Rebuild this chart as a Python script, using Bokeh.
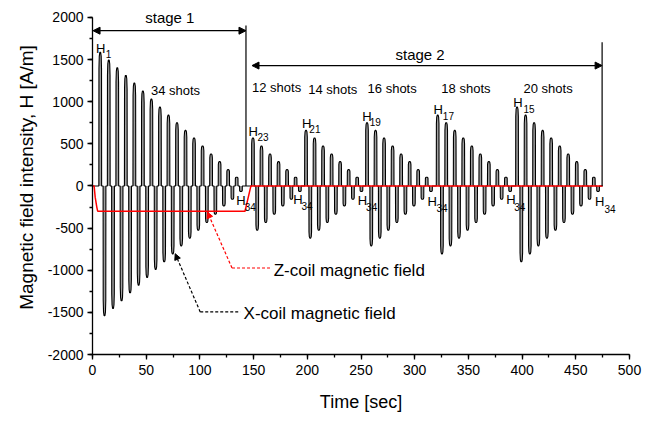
import numpy as np
from bokeh.plotting import figure
from bokeh.models import Range1d, Arrow, NormalHead, SingleIntervalTicker
from bokeh.core.properties import value
from bokeh.embed import file_html
from bokeh.resources import INLINE

# ---------------- data ----------------
# Peak field of the 34 demagnetisation shots H1..H34 (A/m), alternating polarity
H = [1584, -1540, 1493, -1453, 1402, -1363, 1311, -1268, 1220, -1177, 1126, -1086,
     1031, -991, 936, -900, 841, -806, 750, -711, 660, -620, 569, -525,
     474, -434, 379, -336, 288, -237, 194, -158, 103, -65]
shot_interval = 3.97              # s between successive shots
stage1_start = 7.2                # s, time of shot H1
stage2_starts = [149.4, 198.8, 255.6, 321.4, 395.3]   # s, first shot of each group
stage2_first = [23, 21, 19, 17, 15]                   # index of first H in each group
stage2_shots = [12, 14, 16, 18, 20]
wave_end = 475.0

# Z-coil field (A/m)
z_t = [0, 1.5, 2.5, 4.0, 4.8, 142.0, 147.5, 475.0]
z_h = [0, 0, -133, -251, -300, -300, 0, 0]

y_ticks = [-2000, -1500, -1000, -500, 0, 500, 1000, 1500, 2000]
x_ticks = [0, 50, 100, 150, 200, 250, 300, 350, 400, 450, 500]

# ---------------- waveform ----------------
pulses = [(stage1_start + k * shot_interval, H[k]) for k in range(34)]
for s, i0, n in zip(stage2_starts, stage2_first, stage2_shots):
    pulses += [(s + k * shot_interval, H[i0 - 1 + k]) for k in range(n)]

offs = [-1.3, -1.2, -0.9, -0.4, 0.4, 0.9, 1.2, 1.3]
frac = [0, 0.88, 0.97, 1, 1, 0.97, 0.88, 0]
wave_t, wave_h = [0.0], [0.0]
for c, a in pulses:
    for o, f in zip(offs, frac):
        wave_t.append(c + o)
        wave_h.append(a * f)
wave_t.append(wave_end)
wave_h.append(0.0)

FONT = "Liberation Sans"

p = figure(width=658, height=421, x_range=Range1d(0, 500), y_range=Range1d(-2000, 2200),
           output_backend="svg", toolbar_location=None,
           min_border_left=92, min_border_right=29, min_border_top=0, min_border_bottom=67)
p.outline_line_color = None
p.xgrid.visible = False
p.ygrid.visible = False
p.background_fill_color = "white"

p.varea(x=wave_t, y1=0, y2=wave_h, fill_color="#a0a0a0")
p.line(wave_t, wave_h, line_color="black", line_width=1.1)
p.line(z_t, z_h, line_color="#ff0000", line_width=1.5)

# axes
p.xaxis.ticker = SingleIntervalTicker(interval=50, num_minor_ticks=2)
p.yaxis.ticker = SingleIntervalTicker(interval=500, num_minor_ticks=2)
p.yaxis.bounds = (-2000, 2000)
p.xaxis.bounds = (0, 500)
p.yaxis.major_label_overrides = {v: str(v) for v in y_ticks}
p.xaxis.major_label_overrides = {v: str(v) for v in x_ticks}
for ax in (p.xaxis[0], p.yaxis[0]):
    ax.axis_line_color = "black"
    ax.axis_line_width = 1.3
    ax.major_tick_line_color = "black"
    ax.minor_tick_line_color = "black"
    ax.major_tick_line_width = 1.3
    ax.minor_tick_line_width = 1.3
    ax.major_tick_out = 5
    ax.major_tick_in = 0
    ax.minor_tick_out = 3
    ax.minor_tick_in = 0
    ax.major_label_text_font = FONT
    ax.major_label_text_font_size = "14px"
    ax.major_label_text_color = "black"
    ax.axis_label_text_font = FONT
    ax.axis_label_text_font_style = "normal"
    ax.axis_label_text_color = "black"
p.xaxis.axis_label_text_font_size = "18px"
p.yaxis.axis_label_text_font_size = "19px"
p.xaxis.axis_label = "Time [sec]"
p.yaxis.axis_label = "Magnetic field intensity, H [A/m]"
p.xaxis.major_label_standoff = 5
p.yaxis.major_label_standoff = 4
p.xaxis.axis_label_standoff = 14
p.yaxis.axis_label_standoff = 8

def txt(x, y, t, size, align="center", color="black"):
    p.text(x=x, y=y, text=t, text_font=value(FONT), text_font_size=value(size),
           text_align=align, text_baseline="middle", text_color=color, level="overlay")

# stage brackets
p.segment(x0=[142.9, 474.5], y0=[1902, 1704], x1=[142.9, 474.5], y1=[0, 0],
          line_color="black", line_width=1.2)
head = lambda: NormalHead(size=7, fill_color="black", line_color="black", line_width=1)
p.add_layout(Arrow(x_start=0.5, y_start=1842, x_end=142.9, y_end=1842,
                   start=head(), end=head(), line_width=1.2))
p.add_layout(Arrow(x_start=148.5, y_start=1428, x_end=474.5, y_end=1428,
                   start=head(), end=head(), line_width=1.2))
txt([72], [2002], ["stage 1"], "15px")
txt([305], [1558], ["stage 2"], "15px")

# shot counts
txt([77.3, 171.4, 223.7, 279.0, 347.7, 424.2], [1131, 1170, 1143, 1155, 1155, 1155],
    ["34 shots", "12 shots", "14 shots", "16 shots", "18 shots", "20 shots"], "13px")

# H labels with subscripts
h_t = [7.6, 149.7, 199.4, 255.6, 321.9, 396.1, 138.3, 191.4, 251.4, 316.2, 389.6, 472.2]
h_v = [1635, 648, 746, 829, 910, 993, -176, -162, -178, -181, -162, -181]
s_t = [14.9, 158.8, 207.1, 263.3, 331.4, 406.5, 146.9, 199.7, 259.9, 325.5, 397.8, 481.8]
s_v = [1566, 578, 678, 756, 829, 909, -255, -241, -251, -261, -245, -270]
s_txt = ["1", "23", "21", "19", "17", "15", "34", "34", "34", "34", "34", "34"]
txt(h_t, h_v, ["H"] * len(h_t), "13px")
txt(s_t, s_v, s_txt, "10px")

# leader arrows
p.add_layout(Arrow(x_start=129.9, y_start=-974, x_end=107, y_end=-310,
                   end=NormalHead(size=6, fill_color="#ff0000", line_color="#ff0000"),
                   line_color="#ff0000", line_width=1.2, line_dash="3 2"))
p.line([129.9, 167], [-974, -974], line_color="#ff0000", line_width=1.2, line_dash="3 2")
txt([168.7], [-1001], ["Z-coil magnetic field"], "17px", align="left")

p.add_layout(Arrow(x_start=100.3, y_start=-1495, x_end=77, y_end=-804,
                   end=NormalHead(size=6, fill_color="black", line_color="black"),
                   line_color="black", line_width=1.2, line_dash="3 2"))
p.line([100.3, 137.6], [-1495, -1495], line_color="black", line_width=1.2, line_dash="3 2")
txt([140.7], [-1514], ["X-coil magnetic field"], "17px", align="left")

open("out.html", "w").write(file_html(p, INLINE))
